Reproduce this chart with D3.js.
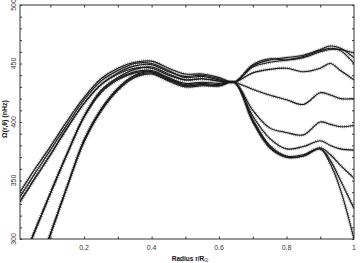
<!DOCTYPE html>
<html>
<head>
<meta charset="utf-8">
<script src="https://cdn.jsdelivr.net/npm/d3@7"></script>
<style>
  body { margin: 0; background: #fff; }
  svg { display: block; font-family: "Liberation Sans", Arial, sans-serif; }
</style>
</head>
<body>
<svg id="chart" width="360" height="263"></svg>
<script>
// Radius grid (r/R_sun) shared by all profiles.
const radius = [0.01, 0.05, 0.1, 0.15, 0.2, 0.25, 0.3, 0.35, 0.4, 0.45, 0.5, 0.55, 0.6, 0.645,
                0.7, 0.75, 0.8, 0.85, 0.9, 0.93, 0.96, 1.0];

// Rotation rate (nHz) for each latitude profile.
const lat0  = [340, 358, 379, 401, 421, 437, 446, 451, 452, 446, 441, 441, 438, 434, 448, 453, 455, 457, 462, 465, 463, 455];
const lat1  = [332, 350, 372, 395, 416, 432, 442, 448, 449, 443, 439, 440, 437, 434, 447, 451, 453, 456, 461, 463, 461, 450];
const lat2  = [336, 354, 376, 398, 419, 435, 444, 450, 450, 444, 438, 439, 436, 434, 449, 454, 453, 455, 460, 462, 462, 459];
const lat3  = [275, 304, 339, 373, 405, 427, 438, 445, 447, 441, 436, 437, 435, 434, 442, 445, 446, 443, 446, 450, 444, 436];
const lat4  = [332, 350, 372, 395, 416, 432, 441, 446, 446, 440, 436, 437, 435, 434, 428, 423, 419, 415, 425, 423, 420, 420];
const lat5  = [275, 304, 339, 373, 405, 426, 437, 443, 444, 438, 433, 434, 433, 434, 410, 395, 391, 389, 400, 398, 396, 397];
const lat6  = [230, 264, 304, 345, 385, 411, 429, 440, 443, 437, 432, 433, 432, 434, 405, 386, 377, 379, 384, 380, 377, 376];
const lat7  = [230, 264, 304, 345, 383, 409, 427, 438, 441, 435, 430, 431, 431, 434, 402, 380, 371, 372, 378, 372, 363, 352];
const lat8  = [275, 304, 339, 373, 404, 425, 436, 442, 443, 437, 431, 432, 431, 434, 400, 378, 370, 371, 377, 364, 342, 300];
const lat9  = [230, 264, 304, 345, 384, 410, 428, 439, 442, 436, 431, 432, 431, 434, 401, 379, 370, 371, 377, 367, 350, 326];

const profiles = [lat0, lat1, lat2, lat3, lat4, lat5, lat6, lat7, lat8, lat9];

const xTicks = [0.2, 0.4, 0.6, 0.8, 1];
const xMinor = [0.1, 0.2, 0.3, 0.4, 0.5, 0.6, 0.7, 0.8, 0.9];
const yTicks = [300, 350, 400, 450, 500];
const yMinor = d3.range(300, 501, 10);

const margin = {left: 20, right: 6, top: 5, bottom: 24};
const W = 360, H = 263;

const svg = d3.select('#chart');
const x = d3.scaleLinear().domain([0.01, 1]).range([margin.left, W - margin.right]);
const y = d3.scaleLinear().domain([300, 500]).range([H - margin.bottom, margin.top]);

const plotL = margin.left, plotR = W - margin.right;
const plotT = margin.top, plotB = H - margin.bottom;

svg.append('clipPath').attr('id', 'plotClip')
  .append('rect')
  .attr('x', plotL).attr('y', plotT)
  .attr('width', plotR - plotL)
  .attr('height', plotB - plotT);

const line = d3.line()
  .x((d, i) => x(radius[i]))
  .y(d => y(d))
  .curve(d3.curveCatmullRom.alpha(0.5));

const plot = svg.append('g').attr('clip-path', 'url(#plotClip)');

// dotted error envelope under each profile
plot.selectAll('path.band')
  .data(profiles)
  .join('path')
  .attr('class', 'band')
  .attr('d', line)
  .attr('fill', 'none')
  .attr('stroke', '#8c8c8c')
  .attr('stroke-width', 3.2)
  .attr('stroke-dasharray', '0.8 1.2');

plot.selectAll('path.profile')
  .data(profiles)
  .join('path')
  .attr('class', 'profile')
  .attr('d', line)
  .attr('fill', 'none')
  .attr('stroke', '#1a1a1a')
  .attr('stroke-width', 1.1);

// frame
svg.append('rect')
  .attr('x', plotL).attr('y', plotT)
  .attr('width', plotR - plotL)
  .attr('height', plotB - plotT)
  .attr('fill', 'none').attr('stroke', '#333').attr('stroke-width', 1);

// inward ticks on all four sides
const tick = (g, axis) => g.call(axis).call(s => s.select('.domain').remove())
  .call(s => s.selectAll('line').attr('stroke', '#333'));

svg.append('g').attr('transform', `translate(0,${plotB})`)
  .call(g => tick(g, d3.axisTop(x).tickValues(xMinor).tickSize(2.5).tickFormat('')));
svg.append('g').attr('transform', `translate(0,${plotT})`)
  .call(g => tick(g, d3.axisBottom(x).tickValues(xMinor).tickSize(2.5).tickFormat('')));
svg.append('g').attr('transform', `translate(${plotL},0)`)
  .call(g => tick(g, d3.axisRight(y).tickValues(yMinor).tickSize(2).tickFormat('')));
svg.append('g').attr('transform', `translate(${plotR},0)`)
  .call(g => tick(g, d3.axisLeft(y).tickValues(yMinor).tickSize(2).tickFormat('')));

// tick labels
svg.append('g').selectAll('text')
  .data(xTicks)
  .join('text')
  .attr('x', d => x(d))
  .attr('y', plotB + 10.5)
  .attr('text-anchor', 'middle')
  .attr('font-size', 7)
  .attr('fill', '#333')
  .text(d => d3.format('~g')(d));

svg.append('g').selectAll('text')
  .data(yTicks)
  .join('text')
  .attr('transform', d => `translate(16,${y(d)}) rotate(-90)`)
  .attr('text-anchor', 'middle')
  .attr('font-size', 7)
  .attr('fill', '#333')
  .text(d => d);

// axis titles
const xt = svg.append('text')
  .attr('x', 190).attr('y', 260.5)
  .attr('text-anchor', 'middle')
  .attr('font-size', 6.5).attr('font-weight', 'bold')
  .attr('fill', '#111');
xt.append('tspan').text('Radius r/R');
xt.append('tspan').attr('font-size', 4.5).attr('dy', 1.5).text('☉');

svg.append('text')
  .attr('transform', 'translate(6.5,119) rotate(-90)')
  .attr('text-anchor', 'middle')
  .attr('font-size', 7).attr('font-weight', 'bold')
  .attr('fill', '#111')
  .text('Ω(r,θ) (nHz)');
</script>
</body>
</html>
